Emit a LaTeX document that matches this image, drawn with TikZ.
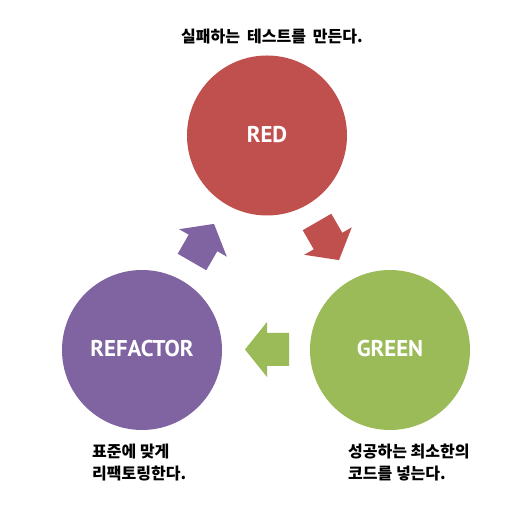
\documentclass[tikz,border=0pt]{standalone}
\usepackage{fontspec}
\setmainfont{PT Sans}
\newfontfamily\kr{Noto Sans CJK KR}
\definecolor{cred}{HTML}{C0504D}
\definecolor{cgreen}{HTML}{9BBB59}
\definecolor{cpurple}{HTML}{8064A2}
\newcommand{\phaselabel}[1]{\raisebox{3pt}{#1}}
\tikzset{
  phase/.style={circle, minimum size=160pt, inner sep=0pt, text=white,
    font=\fontsize{22.8}{24}\selectfont\bfseries},
  caption/.style={inner sep=0pt, font=\kr\bfseries\fontsize{16}{22}\selectfont, align=left},
  blockarrow/.pic={\fill (0,-16.5) -- (22,-16.5) -- (22,-27.5) -- (44,0) -- (22,27.5) -- (22,16.5) -- (0,16.5) -- cycle;}
}
\begin{document}
\begin{tikzpicture}[x=1pt,y=1pt]
\useasboundingbox (0,0) rectangle (528,505);
\node[phase, fill=cred] (red) at (267,369.5) {\phaselabel{RED}};
\node[phase, fill=cgreen] (green) at (390,155) {\phaselabel{GREEN}};
\node[phase, fill=cpurple] (refactor) at (142,155) {\phaselabel{REFACTOR}};
\pic[cred] at (317,283) [rotate=-60] {blockarrow};
\pic[cgreen] at (289,155.5) [rotate=180] {blockarrow};
\pic[cpurple] at (192,243) [rotate=60] {blockarrow};
\node[caption] (tred) at (272,468) {실패하는\hspace{7pt}테스트를\hspace{7pt}만든다.};
\node[caption, anchor=west] (tref) at (92,42) {표준에 맞게\\리팩토링한다.};
\node[caption, anchor=west] (tgreen) at (348,42) {성공하는 최소한의\\코드를 넣는다.};
\end{tikzpicture}
\end{document}
